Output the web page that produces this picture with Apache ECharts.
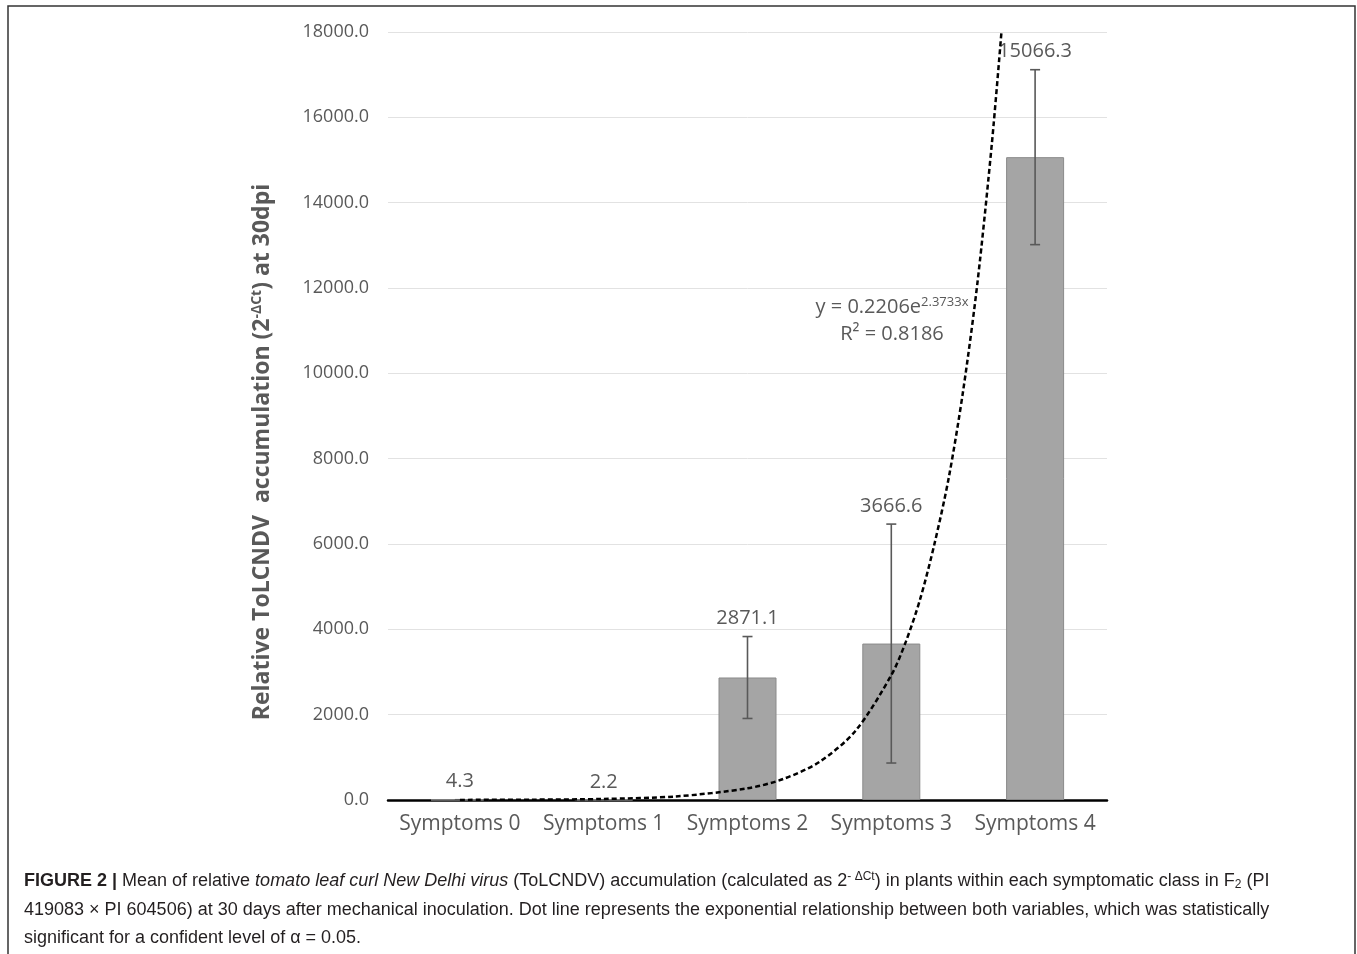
<!DOCTYPE html>
<html>
<head>
<meta charset="utf-8">
<script src="https://cdn.jsdelivr.net/npm/echarts@6/dist/echarts.min.js"></script>
<style>
  html, body { margin: 0; padding: 0; background: #fff; }
  #chart { width: 1357px; height: 954px; }
</style>
</head>
<body>
<div id="chart"></div>
<script>
// categories and bar values
const categories = ["Symptoms 0", "Symptoms 1", "Symptoms 2", "Symptoms 3", "Symptoms 4"];
const meanValues = [4.3, 2.2, 2871.1, 3666.6, 15066.3];
// error bar half-length (read from the whiskers)
const errValues = [2, 1.5, 960, 2800, 2050];
// dotted exponential trend line (x = class position 1..5)
const trendX = [1.0, 1.5, 2.0, 2.5, 3.0, 3.25, 3.5, 3.75, 4.0, 4.1, 4.2, 4.3, 4.4, 4.5, 4.6, 4.7, 4.766];
const trendY = [2.3, 8, 25, 83, 273, 494, 893, 1617, 2925, 3700, 4700, 6000, 7560, 9600, 12150, 15410, 18000];
const yTicks = { min: 0, max: 18000, interval: 2000 };

const chart = echarts.init(document.getElementById("chart"));

const errData = meanValues.map((v, i) => [i, v - errValues[i], v + errValues[i], v]);
const trendData = trendX.map((x, i) => [x, trendY[i]]);

const txtColor = "#595959";
const chartFont = "Open Sans";
const capFont = "Liberation Sans";

chart.setOption({
  animation: false,
  grid: { left: 388, right: 250, top: 32, bottom: 154 },
  xAxis: [
    {
      type: "category",
      data: categories,
      axisLine: { lineStyle: { color: "#000", width: 2.5 } },
      axisTick: { show: false },
      axisLabel: { color: txtColor, fontFamily: chartFont, fontSize: 21, margin: 14, interval: 0 },
    },
    {
      type: "value",
      min: 0.5,
      max: 5.5,
      show: false,
    },
  ],
  yAxis: {
    type: "value",
    min: yTicks.min,
    max: yTicks.max,
    interval: yTicks.interval,
    axisLine: { show: false },
    axisTick: { show: false },
    splitLine: { lineStyle: { color: "#e2e2e2", width: 1 } },
    axisLabel: {
      color: txtColor,
      fontFamily: chartFont,
      fontSize: 18,
      margin: 19,
      formatter: (v) => v.toFixed(1),
    },
  },
  series: [
    {
      name: "mean",
      type: "bar",
      data: meanValues,
      barWidth: 58,
      itemStyle: { color: "#a5a5a5", borderColor: "#8a8a8a", borderWidth: 1 },
      z: 1,
    },
    {
      name: "error",
      type: "custom",
      data: errData,
      z: 3,
      renderItem: (params, api) => {
        const i = api.value(0);
        const lo = api.coord([i, api.value(1)]);
        const hi = api.coord([i, api.value(2)]);
        const cap = 5;
        const st = { stroke: "#595959", lineWidth: 1.6 };
        return {
          type: "group",
          children: [
            { type: "line", shape: { x1: hi[0], y1: hi[1], x2: lo[0], y2: lo[1] }, style: st },
            { type: "line", shape: { x1: hi[0] - cap, y1: hi[1], x2: hi[0] + cap, y2: hi[1] }, style: st },
            { type: "line", shape: { x1: lo[0] - cap, y1: lo[1], x2: lo[0] + cap, y2: lo[1] }, style: st },
            {
              type: "text",
              style: {
                text: String(api.value(3)),
                x: hi[0],
                y: hi[1] - 8,
                align: "center",
                verticalAlign: "bottom",
                fill: txtColor,
                font: "20px " + chartFont,
              },
            },
          ],
        };
      },
    },
    {
      name: "trend",
      type: "line",
      xAxisIndex: 1,
      data: trendData,
      smooth: 0.3,
      showSymbol: false,
      lineStyle: { color: "#000", width: 2.5, type: [5, 3] },
      z: 4,
    },
  ],
  graphic: [
    {
      type: "rect",
      shape: { x: 8, y: 6, width: 1347, height: 1000 },
      style: { fill: null, stroke: "#333", lineWidth: 1.5 },
      silent: true,
    },
    {
      type: "text",
      x: 262,
      y: 452,
      rotation: Math.PI / 2,
      style: {
        text: "Relative ToLCNDV  accumulation (2{sup|-ΔCt}) at 30dpi",
        align: "center",
        verticalAlign: "middle",
        fill: txtColor,
        font: "bold 23px " + chartFont,
        rich: {
          sup: { fontSize: 14, fontWeight: "bold", fontFamily: chartFont, fill: txtColor, verticalAlign: "top", lineHeight: 24 },
        },
      },
    },
    {
      type: "text",
      x: 892,
      y: 307,
      style: {
        text: "y = 0.2206e{sup|2.3733x}",
        align: "center",
        verticalAlign: "middle",
        fill: txtColor,
        font: "20px " + chartFont,
        rich: {
          sup: { fontSize: 13, fontFamily: chartFont, fill: txtColor, verticalAlign: "top", lineHeight: 22 },
        },
      },
    },
    {
      type: "text",
      x: 892,
      y: 334,
      style: {
        text: "R² = 0.8186",
        align: "center",
        verticalAlign: "middle",
        fill: txtColor,
        font: "20px " + chartFont,
      },
    },
    {
      type: "text",
      x: 24,
      y: 881,
      style: {
        text: "{b|FIGURE 2 |} Mean of relative {i|tomato leaf curl New Delhi virus} (ToLCNDV) accumulation (calculated as 2{sup|- ΔCt}) in plants within each symptomatic class in F{sub|2} (PI",
        verticalAlign: "middle",
        fill: "#231f20",
        font: "18px " + capFont,
        rich: {
          b: { fontWeight: "bold", fontSize: 18, fontFamily: capFont, fill: "#231f20" },
          i: { fontStyle: "italic", fontSize: 18, fontFamily: capFont, fill: "#231f20" },
          sup: { fontSize: 12, fontFamily: capFont, fill: "#231f20", verticalAlign: "top", lineHeight: 20 },
          sub: { fontSize: 12, fontFamily: capFont, fill: "#231f20", verticalAlign: "bottom", lineHeight: 17 },
        },
      },
    },
    {
      type: "text",
      x: 24,
      y: 910,
      style: {
        text: "419083 × PI 604506) at 30 days after mechanical inoculation. Dot line represents the exponential relationship between both variables, which was statistically",
        verticalAlign: "middle",
        fill: "#231f20",
        font: "18px " + capFont,
      },
    },
    {
      type: "text",
      x: 24,
      y: 938,
      style: {
        text: "significant for a confident level of α = 0.05.",
        verticalAlign: "middle",
        fill: "#231f20",
        font: "18px " + capFont,
      },
    },
  ],
});
</script>
</body>
</html>
